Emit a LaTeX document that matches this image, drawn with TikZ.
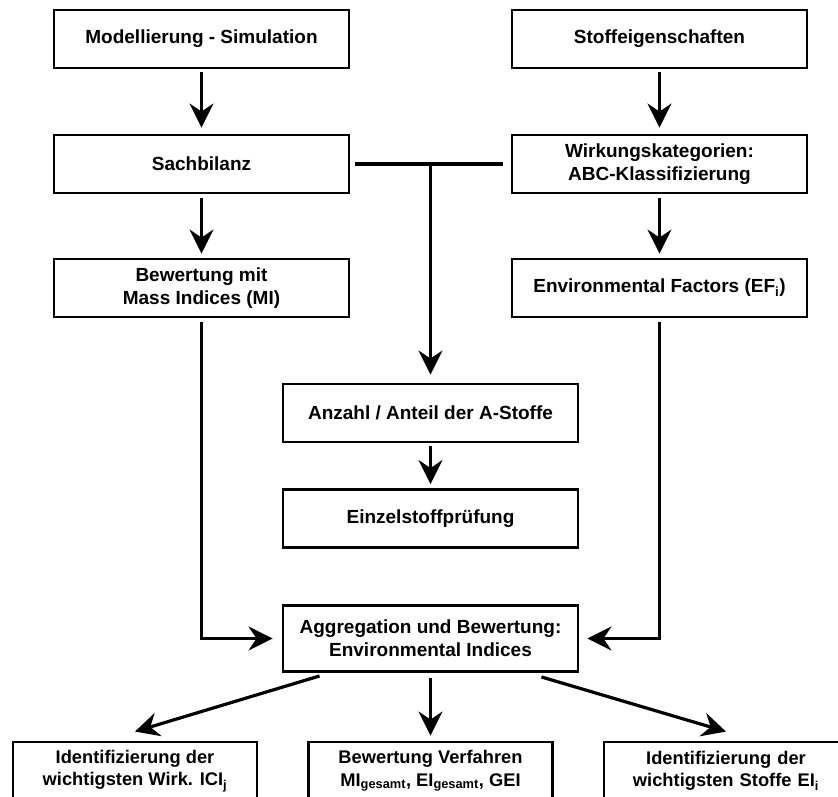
\documentclass[tikz,border=0pt]{standalone}
\usepackage{fontspec}
\setmainfont{Liberation Sans}
\usetikzlibrary{arrows.meta,calc}
\begin{document}
\begin{tikzpicture}[x=1pt,y=-1pt,
  box/.style={draw,line width=2.9pt,rectangle,minimum width=295pt,minimum height=58pt,
    align=center,inner sep=2pt,font=\fontsize{19}{23}\selectfont\bfseries},
  bbox/.style={box,minimum width=244pt,font=\fontsize{18.3}{22.5}\selectfont\bfseries},
  conn/.style={line width=3.2pt},
  arr/.style={conn,-{Stealth[length=24pt,width=24pt,inset=8pt]},shorten <=3pt,shorten >=6pt}]
\useasboundingbox (0,0) rectangle (838,796);
\fill[white] (0,0) rectangle (838,796);
\clip (0,0) rectangle (838,796);
\node[box] (m1) at (201.5,39) {Modellierung - Simulation};
\node[box] (s1) at (659.5,39) {Stoffeigenschaften};
\node[box] (m2) at (201.5,164) {Sachbilanz};
\node[box] (s2) at (659.5,164) {Wirkungskategorien:\\ABC-Klassifizierung};
\node[box] (m3) at (201.5,288) {Bewertung mit\\Mass Indices (MI)};
\node[box] (s3) at (659.5,288) {Environmental Factors (EF\textsubscript{i})};
\node[box] (a) at (430.5,413) {Anzahl / Anteil der A-Stoffe};
\node[box] (e) at (430.5,518.5) {Einzelstoffprüfung};
\node[box,minimum height=66pt] (g) at (430.5,638.5) {Aggregation und Bewertung:\\Environmental Indices};
\node[bbox] (b1) at (135,771) {Identifizierung der\\wichtigsten Wirk. ICI\textsubscript{j}};
\node[bbox] (b2) at (430.5,771) {Bewertung Verfahren\\MI\textsubscript{gesamt}, EI\textsubscript{gesamt}, GEI};
\node[bbox,minimum width=270pt,text width=244pt,xshift=13pt] (b3) at (726,771) {\hspace*{-26pt}Identifizierung der\\\hspace*{-26pt}wichtigsten Stoffe EI\textsubscript{i}};
% arrows
\draw[arr] (m1) -- (m2);
\draw[arr] (s1) -- (s2);
\draw[arr,shorten <=4pt,shorten >=4pt] (m2) -- (m3);
\draw[arr,shorten <=4pt,shorten >=4pt] (s2) -- (s3);
\draw[conn] ($(m2.east)+(5pt,0)$) -- ($(s2.west)+(-8pt,0)$);
\coordinate (j) at (m2.east -| a.north);
\draw[arr,shorten <=0pt,shorten >=8pt] (j) -- (a.north);
\draw[arr,shorten >=4pt] (a) -- (e);
\draw[arr,shorten <=4pt,shorten >=9pt] (m3.south) |- (g.west);
\draw[arr,shorten <=4pt,shorten >=8pt] (s3.south) |- (g.east);
\draw[arr,shorten <=5pt,shorten >=5pt] (g) -- (b2);
\draw[arr,shorten <=0pt,shorten >=0pt] ($(g.south west)+(38pt,-3pt)$) -- ($(b1.north)+(0,9pt)$);
\draw[arr,shorten <=0pt,shorten >=0pt] ($(g.south east)+(-38pt,-4pt)$) -- ($(b3.north)+(-13pt,9pt)$);
\end{tikzpicture}
\end{document}
